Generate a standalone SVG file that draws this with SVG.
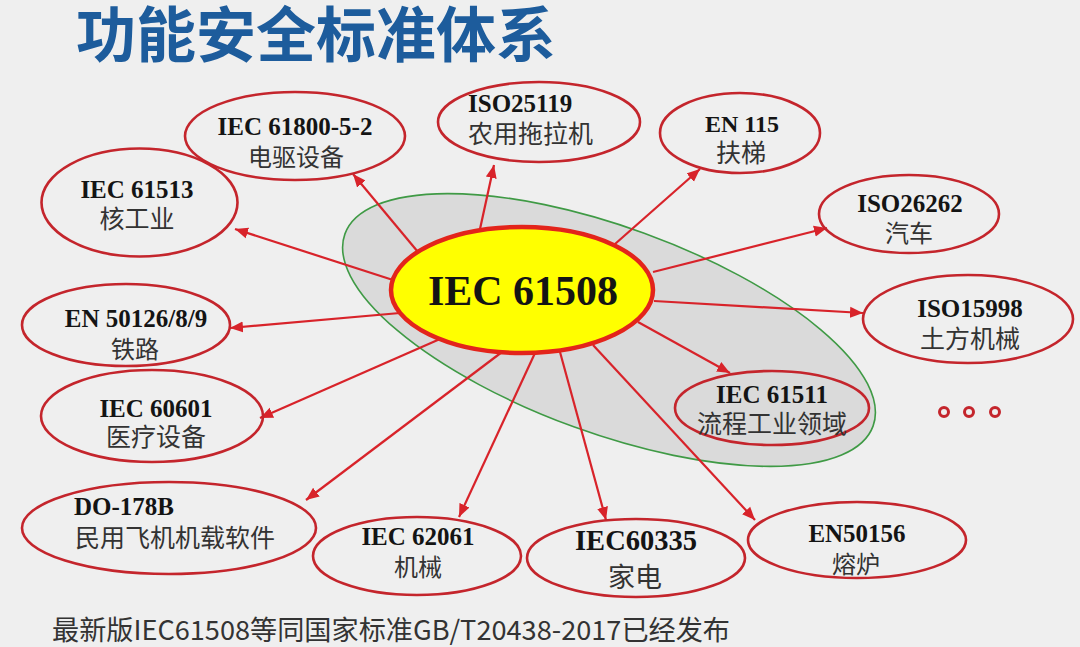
<svg xmlns="http://www.w3.org/2000/svg" width="1080" height="647" viewBox="0 0 1080 647">
  <defs>
    <marker id="ah" markerUnits="userSpaceOnUse" markerWidth="14" markerHeight="12" viewBox="0 0 14 12" refX="13" refY="6" orient="auto">
      <path d="M0,0.5 L13,6 L0,11.5 Z" fill="#d8232a"/>
    </marker>
    <style>
      .node ellipse { fill: none; stroke: #c4252c; stroke-width: 2.6; }
      .en { font-family: "Liberation Serif", "Times New Roman", serif; font-weight: bold; font-size: 25px; fill: #141414; text-anchor: middle; }
      .zh { font-family: "Noto Sans CJK SC", "Noto Sans", sans-serif; font-size: 24px; fill: #333333; text-anchor: middle; }
      .conn line { stroke: #d8232a; stroke-width: 2.2; marker-end: url(#ah); }
      .dot { fill: none; stroke: #c4252c; stroke-width: 3; }
    </style>
  </defs>
  <rect width="1080" height="647" fill="#efefef"/>
  <text x="76" y="57" font-family="Noto Sans CJK SC, Noto Sans, sans-serif" font-weight="bold" font-size="60" fill="#1d5c9c">功能安全标准体系</text>

  <g id="group-area">
    <ellipse cx="609" cy="330" rx="281" ry="103" transform="rotate(20 609 330)" fill="#dadada" stroke="#3f9a45" stroke-width="1.6"/>
  </g>

  <g id="connectors" class="conn">
    <line x1="418" y1="252" x2="353" y2="174"/>
    <line x1="393" y1="280" x2="235" y2="229"/>
    <line x1="480" y1="229" x2="494" y2="165"/>
    <line x1="615" y1="244" x2="700" y2="169"/>
    <line x1="653" y1="272" x2="827" y2="228"/>
    <line x1="654" y1="301" x2="863" y2="313"/>
    <line x1="638" y1="322" x2="730" y2="373"/>
    <line x1="593" y1="345" x2="755" y2="520"/>
    <line x1="560" y1="352" x2="606" y2="520"/>
    <line x1="535" y1="353" x2="459" y2="517"/>
    <line x1="502" y1="352" x2="306" y2="500"/>
    <line x1="440" y1="339" x2="260" y2="418"/>
    <line x1="400" y1="313" x2="230" y2="328"/>
  </g>

  <g id="center">
    <ellipse cx="522" cy="290" rx="131" ry="63" fill="#ffff00" stroke="#e3241b" stroke-width="4.5"/>
    <text x="523" y="305" class="en" style="font-size:42px">IEC 61508</text>
  </g>

  <g id="n-iec61800" class="node">
    <ellipse cx="295" cy="136" rx="110" ry="44"/>
    <text x="295" y="135" class="en">IEC 61800-5-2</text>
    <text x="296" y="166" class="zh">电驱设备</text>
  </g>
  <g id="n-iso25119" class="node">
    <ellipse cx="539" cy="122" rx="101" ry="40"/>
    <text x="468" y="112" class="en" style="text-anchor:start">ISO25119</text>
    <text x="468" y="143" class="zh" style="text-anchor:start;font-size:25px">农用拖拉机</text>
  </g>
  <g id="n-en115" class="node">
    <ellipse cx="740" cy="133" rx="80" ry="40"/>
    <text x="742" y="132" class="en" style="font-size:24px">EN 115</text>
    <text x="741" y="162" class="zh" style="font-size:25px">扶梯</text>
  </g>
  <g id="n-iso26262" class="node">
    <ellipse cx="909" cy="214" rx="90" ry="39"/>
    <text x="910" y="212" class="en">ISO26262</text>
    <text x="909" y="242" class="zh">汽车</text>
  </g>
  <g id="n-iso15998" class="node">
    <ellipse cx="968" cy="319" rx="105" ry="44"/>
    <text x="970" y="317" class="en">ISO15998</text>
    <text x="970" y="348" class="zh" style="font-size:25px">土方机械</text>
  </g>
  <g id="n-iec61511" class="node">
    <ellipse cx="772" cy="408" rx="97" ry="37"/>
    <text x="772" y="403" class="en">IEC 61511</text>
    <text x="772" y="433" class="zh" style="font-size:25px">流程工业领域</text>
  </g>
  <g id="n-more">
    <circle cx="944" cy="412" r="4.5" class="dot"/>
    <circle cx="969" cy="412" r="4.5" class="dot"/>
    <circle cx="995" cy="412" r="4.5" class="dot"/>
  </g>
  <g id="n-en50156" class="node">
    <ellipse cx="857" cy="540" rx="109" ry="38"/>
    <text x="857" y="542" class="en">EN50156</text>
    <text x="856" y="573" class="zh">熔炉</text>
  </g>
  <g id="n-iec60335" class="node">
    <ellipse cx="636" cy="558" rx="109" ry="39"/>
    <text x="636" y="550" class="en" style="font-size:28.5px">IEC60335</text>
    <text x="635" y="587" class="zh" style="font-size:27px">家电</text>
  </g>
  <g id="n-iec62061" class="node">
    <ellipse cx="417" cy="556" rx="104" ry="39"/>
    <text x="418" y="545" class="en">IEC 62061</text>
    <text x="418" y="576" class="zh">机械</text>
  </g>
  <g id="n-do178b" class="node">
    <ellipse cx="169" cy="528" rx="147" ry="46"/>
    <text x="74" y="515" class="en" style="text-anchor:start">DO-178B</text>
    <text x="75" y="547" class="zh" style="text-anchor:start;font-size:25px">民用飞机机载软件</text>
  </g>
  <g id="n-iec60601" class="node">
    <ellipse cx="152" cy="416" rx="111" ry="46"/>
    <text x="156" y="417" class="en">IEC 60601</text>
    <text x="156" y="446" class="zh" style="font-size:25px">医疗设备</text>
  </g>
  <g id="n-en50126" class="node">
    <ellipse cx="126" cy="325" rx="104" ry="41"/>
    <text x="136" y="327" class="en">EN 50126/8/9</text>
    <text x="135" y="358" class="zh">铁路</text>
  </g>
  <g id="n-iec61513" class="node">
    <ellipse cx="139.5" cy="202.5" rx="98" ry="54"/>
    <text x="137" y="198" class="en">IEC 61513</text>
    <text x="137" y="228" class="zh" style="font-size:25px">核工业</text>
  </g>

  <text x="52" y="640" font-family="Noto Sans CJK SC, Noto Sans, sans-serif" font-size="27" fill="#333333" textLength="678" lengthAdjust="spacingAndGlyphs">最新版IEC61508等同国家标准GB/T20438-2017已经发布</text>
</svg>
